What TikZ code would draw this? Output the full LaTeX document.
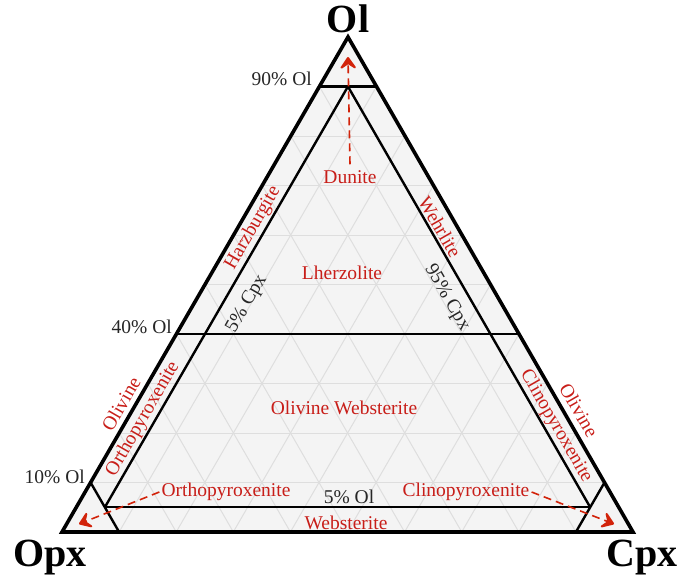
\documentclass[tikz,border=0pt]{standalone}
\usepackage{fontspec}
\setmainfont{Liberation Serif}
\usetikzlibrary{arrows.meta,calc}
\definecolor{lblred}{RGB}{200,30,25}
\definecolor{arrred}{RGB}{210,35,10}
\definecolor{gridgray}{RGB}{222,222,222}
\definecolor{fillgray}{RGB}{244,244,244}
\tikzset{
  gridline/.style={draw=gridgray,line width=1pt},
  mainline/.style={draw=black,line width=2.4pt},
  outerline/.style={draw=black,line width=3.6pt,line join=miter},
  redlbl/.style={text=lblred,font=\fontsize{19.5}{21}\selectfont,inner sep=0pt},
  blklbl/.style={text=black!85,font=\fontsize{19.5}{21}\selectfont,inner sep=0pt},
  vertlbl/.style={text=black,font=\fontsize{40}{42}\selectfont\bfseries,inner sep=0pt},
  redarrow/.style={draw=arrred,line width=1.6pt,dash pattern=on 8pt off 5pt,
    -{Stealth[length=15pt,width=21pt,inset=7pt,round,line width=3pt]}}
}
\begin{document}
\begin{tikzpicture}[x=1pt,y=-1pt]
\useasboundingbox (0,0) rectangle (683,582);
\coordinate (Ol) at (348,37);
\coordinate (Opx) at (62,532);
\coordinate (Cpx) at (633,532);
\fill[fillgray] (Ol)--(Opx)--(Cpx)--cycle;
\begin{scope}
\clip (Ol)--(Opx)--(Cpx)--cycle;
\foreach \a in {0.1,0.2,...,0.95}{
  \draw[gridline] ($(Opx)!\a!(Ol)$) -- ($(Cpx)!\a!(Ol)$);
  \draw[gridline] ($(Ol)!\a!(Opx)$) -- ($(Cpx)!\a!(Opx)$);
  \draw[gridline] ($(Ol)!\a!(Cpx)$) -- ($(Opx)!\a!(Cpx)$);
}
\end{scope}
% classification lines
\coordinate (top5) at (barycentric cs:Ol=0.9,Opx=0.05,Cpx=0.05);
\coordinate (lo5) at (barycentric cs:Ol=0.05,Opx=0.9,Cpx=0.05);
\coordinate (ro5) at (barycentric cs:Ol=0.05,Opx=0.05,Cpx=0.9);
\draw[mainline] ($(Opx)!0.9!(Ol)$) -- ($(Cpx)!0.9!(Ol)$);
\draw[mainline] ($(Opx)!0.4!(Ol)$) -- ($(Cpx)!0.4!(Ol)$);
\draw[mainline] (top5) -- (lo5);
\draw[mainline] (top5) -- (ro5);
\draw[mainline] (lo5) -- (ro5);
\draw[mainline] ($(Opx)!0.1!(Ol)$) -- ($(Opx)!0.1!(Cpx)$);
\draw[mainline] ($(Cpx)!0.1!(Ol)$) -- ($(Cpx)!0.1!(Opx)$);
\draw[outerline] (Ol)--(Opx)--(Cpx)--cycle;
% vertex labels
\node[vertlbl] (tOl) at (348,19) {Ol};
\node[vertlbl] (tOpx) at (50,558) {Opx};
\node[vertlbl] (tCpx) at (642,558) {Cpx};
% percentage labels
\node[blklbl,anchor=east] (p90) at (312,79) {90\% Ol};
\node[blklbl,anchor=east] (p40) at (172,327) {40\% Ol};
\node[blklbl,anchor=east] (p10) at (85,477) {10\% Ol};
\node[blklbl] (p5) at (349,497) {5\% Ol};
\node[blklbl,rotate=60] (c5) at (247,304) {5\% Cpx};
\node[blklbl,rotate=-60] (c95) at (447,298) {95\% Cpx};
% region labels
\node[redlbl] (dun) at (350,177) {Dunite};
\node[redlbl] (lhz) at (342,273) {Lherzolite};
\node[redlbl] (owb) at (344,408) {Olivine Websterite};
\node[redlbl] (web) at (346,523) {Websterite};
\node[redlbl,rotate=60] (hzb) at (253,228) {Harzburgite};
\node[redlbl,rotate=-60] (weh) at (440,227) {Wehrlite};
\node[redlbl,rotate=60] (oliL) at (121,404) {Olivine};
\node[redlbl,rotate=60] (opxL) at (143,419) {Orthopyroxenite};
\node[redlbl,rotate=-60] (oliR) at (579,410) {Olivine};
\node[redlbl,rotate=-60] (cpxL) at (556,426) {Clinopyroxenite};
\node[redlbl] (opxn) at (226,492) {Orthopyroxenite};
\node[redlbl] (cpxn) at (466,492) {Clinopyroxenite};
% arrows
\coordinate (tipOl) at (348,57);
\coordinate (tipOpx) at (79,524);
\coordinate (tipCpx) at (614,524);
\draw[redarrow] ([yshift=6pt]dun.north) -- (tipOl);
\draw[redarrow] ([xshift=-2pt]opxn.west) -- (tipOpx);
\draw[redarrow] ([xshift=2pt]cpxn.east) -- (tipCpx);
\end{tikzpicture}
\end{document}
